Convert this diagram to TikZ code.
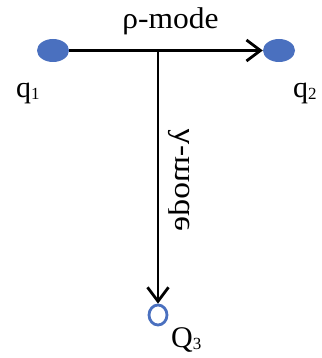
\documentclass[tikz,border=0pt]{standalone}
\usepackage{fontspec}
\setmainfont{Liberation Serif}
\usetikzlibrary{arrows.meta,shapes.geometric}
\definecolor{dotblue}{HTML}{4A70BF}
\tikzset{
  dot/.style={ellipse, fill=dotblue, minimum width=32pt, minimum height=23pt, inner sep=0pt},
  hollow/.style={ellipse, draw=dotblue, line width=2.8pt, minimum width=18pt, minimum height=20pt, inner sep=0pt},
  arr/.style={line width=2.8pt, -{Straight Barb[length=14pt,width=21pt,line width=2.8pt]}},
  lbl/.style={font=\fontsize{30}{32}\selectfont, inner sep=0pt},
}
\newcommand{\smallsub}[1]{\raisebox{-2pt}{\fontsize{17}{17}\selectfont #1}}
\begin{document}
\begin{tikzpicture}[x=1pt,y=-1pt]
\useasboundingbox (0,0) rectangle (321,358);
\node[dot] (q1dot) at (53,50.5) {};
\node[dot] (q2dot) at (279,50.5) {};
\node[hollow] (q3) at (158,315) {};
\coordinate (junc) at (158,50.5);
\draw[arr] (q1dot) -- (q2dot);
\draw[arr] (junc) -- (q3);
\node[lbl, anchor=base, xscale=1.05] (rho) at (170.5,29) {ρ-mode};
\node[lbl, anchor=base west] (lq1) at (16,98) {q\smallsub{1}};
\node[lbl, anchor=base west] (lq2) at (293,98) {q\smallsub{2}};
\node[lbl, anchor=base west] (lq3) at (171,347) {Q\smallsub{3}};
\node[lbl, rotate=-90, yscale=-1, xscale=1.12] (lam) at (179,180) {λ-mode};
\end{tikzpicture}
\end{document}
